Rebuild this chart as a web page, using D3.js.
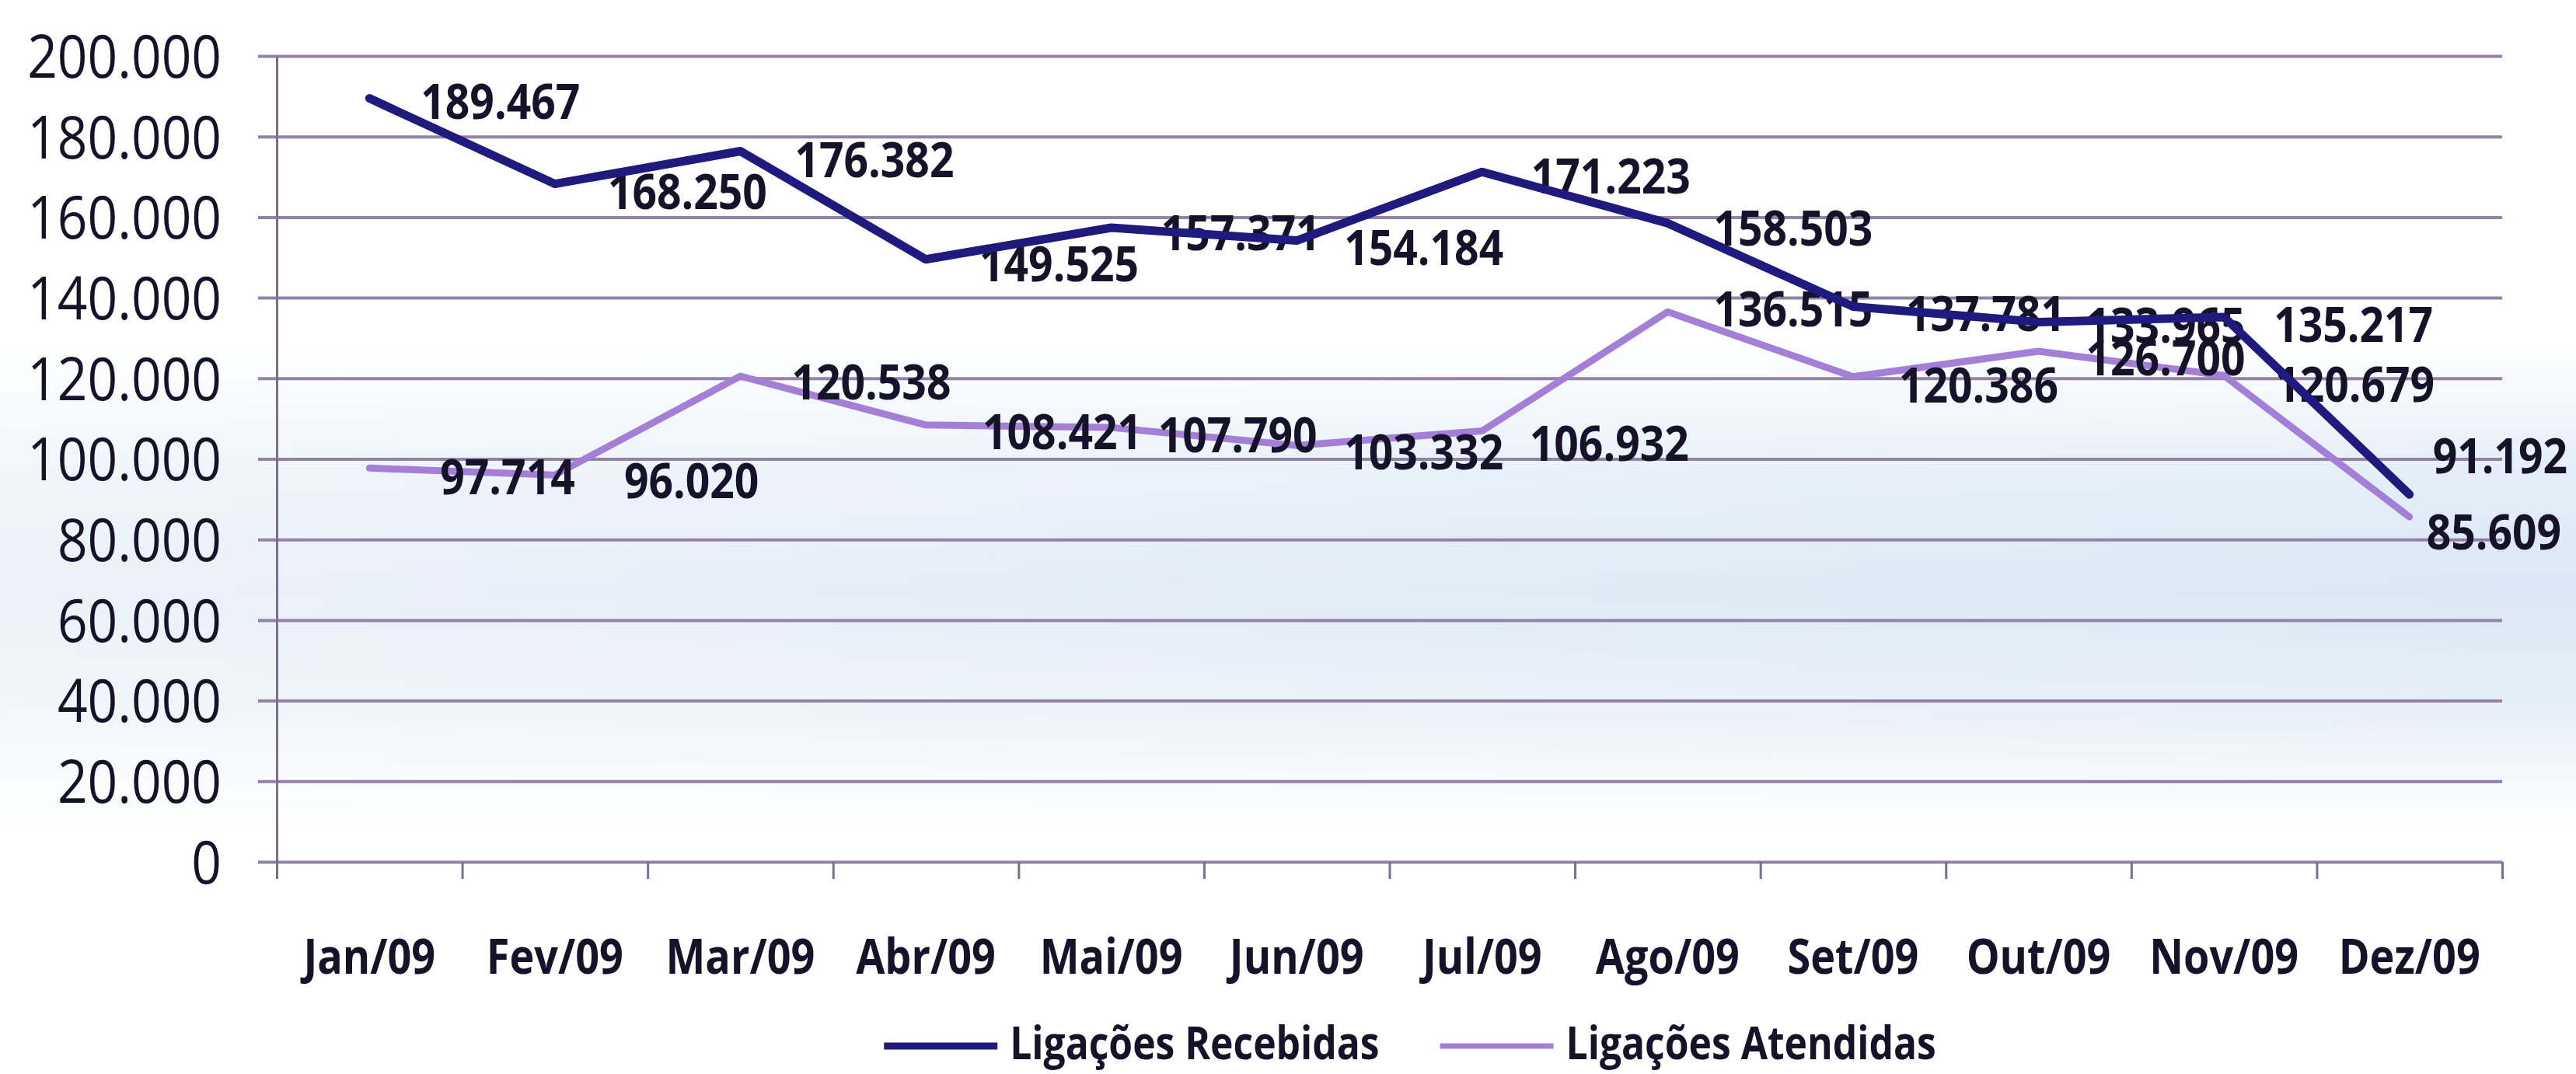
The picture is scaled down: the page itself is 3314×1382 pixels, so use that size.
<!DOCTYPE html>
<html>
<head>
<meta charset="utf-8">
<script src="https://cdn.jsdelivr.net/npm/d3@7"></script>
<style>
  html, body { margin: 0; padding: 0; background: #fff; }
  svg { display: block; }
  text { font-family: "Open Sans", "Noto Sans", sans-serif; fill: #15122a; }
</style>
</head>
<body>
<svg id="chart" width="3314" height="1382"></svg>
<script>
// Monthly call-centre figures, 2009
const months = ["Jan/09", "Fev/09", "Mar/09", "Abr/09", "Mai/09", "Jun/09",
                "Jul/09", "Ago/09", "Set/09", "Out/09", "Nov/09", "Dez/09"];
const recebidas = [189467, 168250, 176382, 149525, 157371, 154184,
                   171223, 158503, 137781, 133965, 135217, 91192];
const atendidas = [97714, 96020, 120538, 108421, 107790, 103332,
                   106932, 136515, 120386, 126700, 120679, 85609];
const seriesNames = ["Ligações Recebidas", "Ligações Atendidas"];
const yTickValues = [0, 20000, 40000, 60000, 80000, 100000,
                     120000, 140000, 160000, 180000, 200000];

// Per-label nudges (px) from the default "right of point" placement
const recebidasLabelShift = [[66, 4], [68, 10], [70, 11], [69, 6], [64, 7], [61, 9],
                             [63, 5], [59, 7], [68, 9], [61, 4], [64, 10], [30, -50]];
const atendidasLabelShift = [[91, 11], [89, 8], [66, 8], [73, 9], [60, 10], [61, 8],
                             [61, 16], [59, -4], [59, 11], [61, 9], [66, 11], [22, 20]];

const series = [
  { name: seriesNames[1], values: atendidas, color: "#a47fd8", width: 9, legendWidth: 7, shift: atendidasLabelShift },
  { name: seriesNames[0], values: recebidas, color: "#1e1a7e", width: 11, legendWidth: 9, shift: recebidasLabelShift }
];

const ptBR = d3.formatLocale({ decimal: ",", thousands: ".", grouping: [3], currency: ["R$", ""] });
const fmt = ptBR.format(",");

const W = 3314, H = 1382;
const plot = { left: 356, right: 3219, top: 72, bottom: 1109 };
const svg = d3.select("#chart");

// squeeze text horizontally to mimic the narrow original typeface
function squeeze(sel, sx) {
  sel.each(function () {
    const t = d3.select(this);
    const x = +t.attr("x") || 0;
    t.attr("x", x / sx).attr("transform", `scale(${sx},1)`);
  });
}

// paper tint band
const defs = svg.append("defs");
const grad = defs.append("linearGradient").attr("id", "tint")
  .attr("gradientUnits", "userSpaceOnUse").attr("x1", 0).attr("y1", 0).attr("x2", 0).attr("y2", H);
[[0, "#ffffff"], [0.32, "#ffffff"], [0.44, "#e4eef8"], [0.55, "#dbe7f4"],
 [0.66, "#e6eff8"], [0.77, "#ffffff"], [1, "#ffffff"]]
  .forEach(([o, c]) => grad.append("stop").attr("offset", o).attr("stop-color", c));
svg.append("rect").attr("width", W).attr("height", H).attr("fill", "url(#tint)");
const gradH = defs.append("linearGradient").attr("id", "fadeLeft")
  .attr("gradientUnits", "userSpaceOnUse").attr("x1", 0).attr("y1", 0).attr("x2", W).attr("y2", 0);
[[0, 0.45], [0.5, 0.2], [1, 0]]
  .forEach(([o, a]) => gradH.append("stop").attr("offset", o).attr("stop-color", "#fff").attr("stop-opacity", a));
svg.append("rect").attr("width", W).attr("height", H).attr("fill", "url(#fadeLeft)");

const x = d3.scaleBand().domain(months).range([plot.left, plot.right]).paddingInner(0).paddingOuter(0);
const xEdge = d3.scaleLinear().domain([0, months.length]).range([plot.left, plot.right]);
const y = d3.scaleLinear().domain([0, 200000]).range([plot.bottom, plot.top]);
const cx = m => x(m) + x.bandwidth() / 2;

const gridColor = "#9381a8";

// horizontal gridlines (they also form the left tick marks)
const grid = svg.append("g").attr("transform", `translate(${plot.left - 24},0)`)
  .call(d3.axisLeft(y).tickValues(yTickValues).tickSize(-(plot.right - plot.left + 24)).tickFormat(""));
grid.select(".domain").remove();
grid.selectAll("line").attr("stroke", gridColor).attr("stroke-width", 4);

// y axis line and labels
const yAxis = svg.append("g").attr("transform", `translate(${plot.left},0)`)
  .call(d3.axisLeft(y).tickValues(yTickValues).tickSize(0).tickPadding(71).tickFormat(fmt));
yAxis.select(".domain").attr("stroke", "#7d6d92").attr("stroke-width", 3);
yAxis.selectAll("text").attr("font-size", 76).attr("font-weight", 400)
  .attr("font-family", null).attr("fill", null).attr("dy", "0.36em").call(squeeze, 0.89);

// x tick marks between categories
const xTicks = svg.append("g").attr("transform", `translate(0,${plot.bottom})`)
  .call(d3.axisBottom(xEdge).tickValues(d3.range(months.length + 1)).tickSize(22).tickFormat(""));
xTicks.select(".domain").remove();
xTicks.selectAll("line").attr("stroke", "#7d6d92").attr("stroke-width", 3);

// category labels
const xAxis = svg.append("g").attr("transform", `translate(0,${plot.bottom})`)
  .call(d3.axisBottom(x).tickSize(0));
xAxis.select(".domain").remove();
xAxis.selectAll("text").attr("font-size", 62).attr("font-weight", 700)
  .attr("font-family", null).attr("fill", null)
  .attr("y", 144).attr("dy", 0).call(squeeze, 0.87);

const line = d3.line().x((d, i) => cx(months[i])).y(d => y(d));

function drawLine(s) {
  svg.append("path").datum(s.values).attr("d", line)
    .attr("fill", "none").attr("stroke", s.color).attr("stroke-width", s.width)
    .attr("stroke-linejoin", "round").attr("stroke-linecap", "round");
}

function drawLabels(s) {
  const g = svg.append("g");
  s.values.forEach((v, i) => {
    const [dx, dy] = s.shift[i];
    g.append("g").attr("transform", `translate(${cx(months[i]) + dx},${y(v) + dy})`)
      .append("text").attr("font-size", 62).attr("font-weight", 700)
      .attr("dy", "0.36em").attr("transform", "scale(0.89,1)").text(fmt(v));
  });
}

drawLine(series[0]);
drawLabels(series[0]);
drawLabels(series[1]);
drawLine(series[1]);

// legend, in series order Recebidas then Atendidas
const legendItems = [series[1], series[0]];
const legend = svg.append("g");
const lineLen = 146, textGap = 16, itemGap = 78, legendSx = 0.83;
const parts = legendItems.map(s => {
  const g = legend.append("g");
  g.append("line").attr("x1", 0).attr("x2", lineLen).attr("y1", 1346).attr("y2", 1346)
    .attr("stroke", s.color).attr("stroke-width", s.legendWidth);
  const t = g.append("text").attr("x", lineLen + textGap).attr("y", 1363)
    .attr("font-size", 60).attr("font-weight", 700).text(s.name);
  t.call(squeeze, legendSx);
  const tw = t.node().getComputedTextLength() * legendSx;
  return { g, w: lineLen + textGap + tw };
});
const total = d3.sum(parts, p => p.w) + itemGap * (parts.length - 1);
let lx = 1814 - total / 2;
parts.forEach(p => { p.g.attr("transform", `translate(${lx},0)`); lx += p.w + itemGap; });
</script>
</body>
</html>
